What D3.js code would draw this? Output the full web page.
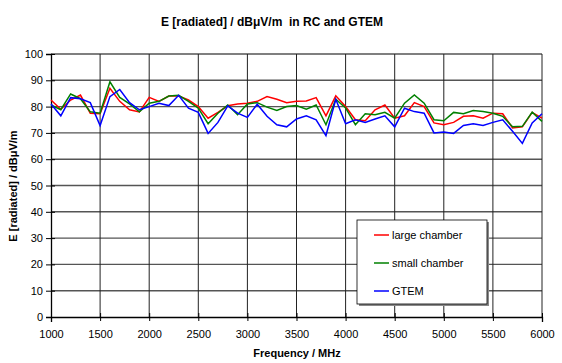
<!DOCTYPE html>
<html>
<head>
    <title>E radiated in RC and GTEM</title>
    <script src="https://d3js.org/d3.v7.min.js"></script>
    <style>
        body { margin: 0; background: #fff; }
        svg text { font-family: "Liberation Sans", Arial, sans-serif; fill: #000; }
        .ttl { font-size: 12px; font-weight: bold; white-space: pre; }
        .tick text { font-size: 11px; }
        .leg text { font-size: 11px; }
    </style>
</head>
<body>
    <svg id="chart" width="562" height="363"></svg>

    <script>
        // frequencies in MHz
        var freqs = [1000, 1100, 1200, 1300, 1400, 1500, 1600, 1700, 1800, 1900,
                     2000, 2100, 2200, 2300, 2400, 2500, 2600, 2700, 2800, 2900,
                     3000, 3100, 3200, 3300, 3400, 3500, 3600, 3700, 3800, 3900,
                     4000, 4100, 4200, 4300, 4400, 4500, 4600, 4700, 4800, 4900,
                     5000, 5100, 5200, 5300, 5400, 5500, 5600, 5700, 5800, 5900, 6000];

        var largeChamber = [82.5, 79, 82.5, 84.4, 77.5, 77.3, 87, 82, 78.8, 78,
                            83.5, 82, 84, 84, 82.5, 80, 75.6, 77.8, 80.3, 81,
                            81.3, 82, 83.8, 82.8, 81.5, 82, 82.1, 83.4, 76.5, 84.1,
                            80, 75, 74.6, 78.8, 80.6, 75.6, 76.5, 81.5, 80, 73.8,
                            73.1, 74, 76.3, 76.5, 75.6, 77.5, 77.3, 71.9, 72.3, 77.8, 75.6];

        var smallChamber = [80.6, 78.8, 84.8, 83, 78, 77.5, 89.4, 83.5, 81, 78,
                            81.3, 82, 84, 84.3, 82, 79.4, 73.5, 77.5, 80.6, 76.9,
                            81, 81.5, 79.8, 78.5, 80, 80.4, 79, 80.6, 73.1, 82.8,
                            79.5, 73.1, 77.3, 76.9, 77.8, 75.6, 81.3, 84.4, 81.3, 75,
                            74.6, 77.8, 77.3, 78.5, 78.1, 77.5, 76.3, 72.3, 72.5, 77.9, 74.4];

        var gtem = [81, 76.5, 83.4, 83, 81.5, 72.8, 83.8, 86.5, 81.5, 78.8,
                    80, 81.3, 80.4, 84.3, 79.4, 77.8, 69.8, 74, 80.3, 77.5,
                    75.9, 80.9, 76.3, 73.1, 72.3, 75.3, 76.5, 75, 69, 82.8,
                    73.5, 75, 74, 75.3, 76.5, 72.3, 79.4, 78.1, 77.5, 70,
                    70.3, 69.8, 72.8, 73.5, 72.8, 74, 75, 70.6, 66, 73.8, 77.3];

        var seriesNames = ["large chamber", "small chamber", "GTEM"];
        var seriesColors = ["#ff0000", "#008000", "#0000ff"];
        var xTicks = [1000, 1500, 2000, 2500, 3000, 3500, 4000, 4500, 5000, 5500, 6000];
        var yTicks = [0, 10, 20, 30, 40, 50, 60, 70, 80, 90, 100];

        var svg = d3.select("#chart");
        var pLeft = 51, pRight = 542, pTop = 54, pBottom = 317;

        var x = d3.scaleLinear().domain([1000, 6000]).range([pLeft, pRight]);
        var y = d3.scaleLinear().domain([0, 100]).range([pBottom, pTop]);

        // title
        svg.append("text").attr("class", "ttl")
            .attr("x", 272).attr("y", 26).attr("text-anchor", "middle")
            .text("E [radiated] / dBμV/m  in RC and GTEM");

        // gridlines
        svg.append("g").selectAll("line").data(yTicks.slice(1)).enter().append("line")
            .attr("x1", pLeft).attr("x2", pRight)
            .attr("y1", function(d) { return y(d); })
            .attr("y2", function(d) { return y(d); })
            .attr("stroke", "#555").attr("stroke-width", 1.4);

        svg.append("g").selectAll("line").data(xTicks.slice(1)).enter().append("line")
            .attr("y1", pTop).attr("y2", pBottom)
            .attr("x1", function(d) { return x(d); })
            .attr("x2", function(d) { return x(d); })
            .attr("stroke", "#222").attr("stroke-width", 1);

        // axes
        var yAxis = svg.append("g").attr("transform", "translate(" + pLeft + ",0)")
            .call(d3.axisLeft(y).tickValues(yTicks).tickSize(5).tickPadding(3));
        var xAxis = svg.append("g").attr("transform", "translate(0," + pBottom + ")")
            .call(d3.axisBottom(x).tickValues(xTicks).tickFormat(d3.format("d"))
                .tickSize(5).tickPadding(8));
        [yAxis, xAxis].forEach(function(a) {
            a.select(".domain").attr("stroke", "#000").attr("stroke-width", 1.3);
            a.selectAll(".tick line").attr("stroke", "#000");
        });
        xAxis.selectAll(".tick line").attr("y1", -4).attr("y2", 4);
        yAxis.selectAll(".tick line").attr("x1", 4).attr("x2", -5);

        // axis titles
        svg.append("text").attr("class", "ttl")
            .attr("x", 297).attr("y", 357).attr("text-anchor", "middle")
            .style("font-size", "11px")
            .text("Frequency / MHz");
        svg.append("text").attr("class", "ttl")
            .attr("transform", "translate(17,186) rotate(-90)")
            .attr("text-anchor", "middle")
            .style("font-size", "11px")
            .text("E [radiated] / dBμV/m");

        // series lines
        var allSeries = [largeChamber, smallChamber, gtem];
        var line = d3.line()
            .x(function(d, i) { return x(freqs[i]); })
            .y(function(d) { return y(d); });

        svg.append("g").selectAll("path").data(allSeries).enter().append("path")
            .attr("d", line)
            .attr("fill", "none")
            .attr("stroke", function(d, i) { return seriesColors[i]; })
            .attr("stroke-width", 1.5)
            .attr("stroke-linejoin", "miter");

        // legend
        var leg = svg.append("g").attr("class", "leg");
        leg.append("rect").attr("x", 359).attr("y", 222).attr("width", 130).attr("height", 84)
            .attr("fill", "#888");
        leg.append("rect").attr("x", 357).attr("y", 220).attr("width", 130).attr("height", 84)
            .attr("fill", "#fff").attr("stroke", "#000").attr("stroke-width", 0.8);

        var items = leg.selectAll(".item").data(seriesNames).enter().append("g")
            .attr("transform", function(d, i) { return "translate(374," + (235 + i * 28) + ")"; });
        items.append("line").attr("x1", 0).attr("x2", 15)
            .attr("stroke", function(d, i) { return seriesColors[i]; })
            .attr("stroke-width", 1.5);
        items.append("text").attr("x", 18).attr("dy", "0.35em").text(function(d) { return d; });
    </script>
</body>
</html>
